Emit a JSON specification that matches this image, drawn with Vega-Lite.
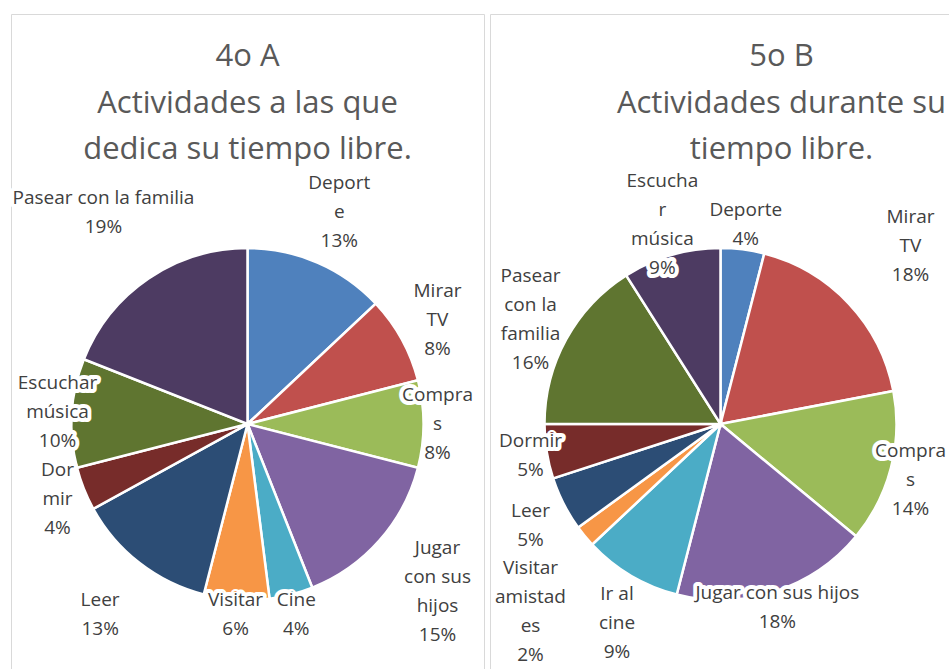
{
  "$schema": "https://vega.github.io/schema/vega-lite/v6.json",
  "padding": {"left": 10, "top": 13, "right": 0, "bottom": 0},
  "background": "white",
  "spacing": 4,
  "config": {
    "view": {"stroke": "#D9D9D9", "strokeWidth": 1},
    "font": "Open Sans",
    "title": {"font": "Open Sans", "fontSize": 31, "fontWeight": "normal", "color": "#595959", "lineHeight": 46.5, "anchor": "middle"}
  },
  "resolve": {"scale": {"color": "independent", "theta": "independent"}},
  "datasets": {
    "cuartoA": [
      {"orden": 1, "actividad": "Deporte", "porcentaje": 13, "etiqueta": "Deport\ne\n13%"},
      {"orden": 2, "actividad": "Mirar TV", "porcentaje": 8, "etiqueta": "Mirar\nTV\n8%"},
      {"orden": 3, "actividad": "Compras", "porcentaje": 8, "etiqueta": "Compra\ns\n8%"},
      {"orden": 4, "actividad": "Jugar con sus hijos", "porcentaje": 15, "etiqueta": "Jugar\ncon sus\nhijos\n15%"},
      {"orden": 5, "actividad": "Cine", "porcentaje": 4, "etiqueta": "Cine\n4%"},
      {"orden": 6, "actividad": "Visitar", "porcentaje": 6, "etiqueta": "Visitar\n6%"},
      {"orden": 7, "actividad": "Leer", "porcentaje": 13, "etiqueta": "Leer\n13%"},
      {"orden": 8, "actividad": "Dormir", "porcentaje": 4, "etiqueta": "Dor\nmir\n4%"},
      {"orden": 9, "actividad": "Escuchar música", "porcentaje": 10, "etiqueta": "Escuchar\nmúsica\n10%"},
      {"orden": 10, "actividad": "Pasear con la familia", "porcentaje": 19, "etiqueta": "Pasear con la familia\n19%"}
    ],
    "quintoB": [
      {"orden": 1, "actividad": "Deporte", "porcentaje": 4, "etiqueta": "Deporte\n4%"},
      {"orden": 2, "actividad": "Mirar TV", "porcentaje": 18, "etiqueta": "Mirar\nTV\n18%"},
      {"orden": 3, "actividad": "Compras", "porcentaje": 14, "etiqueta": "Compra\ns\n14%"},
      {"orden": 4, "actividad": "Jugar con sus hijos", "porcentaje": 18, "etiqueta": "Jugar con sus hijos\n18%"},
      {"orden": 5, "actividad": "Ir al cine", "porcentaje": 9, "etiqueta": "Ir al\ncine\n9%"},
      {"orden": 6, "actividad": "Visitar amistades", "porcentaje": 2, "etiqueta": "Visitar\namistad\nes\n2%"},
      {"orden": 7, "actividad": "Leer", "porcentaje": 5, "etiqueta": "Leer\n5%"},
      {"orden": 8, "actividad": "Dormir", "porcentaje": 5, "etiqueta": "Dormir\n5%"},
      {"orden": 9, "actividad": "Pasear con la familia", "porcentaje": 16, "etiqueta": "Pasear\ncon la\nfamilia\n16%"},
      {"orden": 10, "actividad": "Escuchar música", "porcentaje": 9, "etiqueta": "Escucha\nr\nmúsica\n9%"}
    ]
  },
  "hconcat": [
    {
      "width": 473,
      "height": 655,
      "view": {"stroke": "#D9D9D9", "strokeWidth": 1},
      "title": {"text": ["4o A", "Actividades a las que", "dedica su tiempo libre."], "offset": -152},
      "data": {"name": "cuartoA"},
      "encoding": {
        "theta": {"field": "porcentaje", "type": "quantitative", "stack": true},
        "order": {"field": "orden", "type": "quantitative"}
      },
      "layer": [
        {
          "mark": {"type": "arc", "outerRadius": 176, "stroke": "white", "strokeWidth": 2.5, "y": {"expr": "height * 0.626"}, "clip": true},
          "encoding": {
            "color": {
              "field": "actividad", "type": "nominal", "legend": null,
              "scale": {
                "domain": ["Deporte", "Mirar TV", "Compras", "Jugar con sus hijos", "Cine", "Visitar", "Leer", "Dormir", "Escuchar música", "Pasear con la familia"],
                "range": ["#4F81BD", "#C0504D", "#9BBB59", "#8064A2", "#4BACC6", "#F79646", "#2C4D75", "#772C2A", "#5F7530", "#4D3B62"]
              }
            }
          }
        },
        {
          "mark": {
            "type": "text",
            "radius": {"expr": "min(190 / max(abs(sin(PI * (datum.porcentaje_start + datum.porcentaje_end) / 100)), 0.001), (cos(PI * (datum.porcentaje_start + datum.porcentaje_end) / 100) >= 0 ? 212 : 190) / max(abs(cos(PI * (datum.porcentaje_start + datum.porcentaje_end) / 100)), 0.001))"},
            "dy": {"expr": "-(length(split(datum.etiqueta, '\\n')) - 1) * 14.5"},
            "y": {"expr": "height * 0.626"},
            "fontSize": 19, "lineHeight": 29, "lineBreak": "\n", "color": "white", "stroke": "white", "strokeWidth": 8, "strokeJoin": "round", "align": "center", "baseline": "middle", "clip": true
          },
          "encoding": {"text": {"field": "etiqueta", "type": "nominal"}}
        },
        {
          "mark": {
            "type": "text",
            "radius": {"expr": "min(190 / max(abs(sin(PI * (datum.porcentaje_start + datum.porcentaje_end) / 100)), 0.001), (cos(PI * (datum.porcentaje_start + datum.porcentaje_end) / 100) >= 0 ? 212 : 190) / max(abs(cos(PI * (datum.porcentaje_start + datum.porcentaje_end) / 100)), 0.001))"},
            "dy": {"expr": "-(length(split(datum.etiqueta, '\\n')) - 1) * 14.5"},
            "y": {"expr": "height * 0.626"},
            "fontSize": 19, "lineHeight": 29, "lineBreak": "\n", "color": "#404040", "align": "center", "baseline": "middle", "clip": true
          },
          "encoding": {"text": {"field": "etiqueta", "type": "nominal"}}
        }
      ]
    },
    {
      "width": 461,
      "height": 655,
      "view": {"stroke": "#D9D9D9", "strokeWidth": 1},
      "title": {"text": ["5o B", "Actividades durante su", "tiempo libre."], "offset": -152, "dx": 61},
      "data": {"name": "quintoB"},
      "encoding": {
        "theta": {"field": "porcentaje", "type": "quantitative", "stack": true},
        "order": {"field": "orden", "type": "quantitative"}
      },
      "layer": [
        {
          "mark": {"type": "arc", "outerRadius": 176, "stroke": "white", "strokeWidth": 2.5, "y": {"expr": "height * 0.626"}, "clip": true},
          "encoding": {
            "color": {
              "field": "actividad", "type": "nominal", "legend": null,
              "scale": {
                "domain": ["Deporte", "Mirar TV", "Compras", "Jugar con sus hijos", "Ir al cine", "Visitar amistades", "Leer", "Dormir", "Pasear con la familia", "Escuchar música"],
                "range": ["#4F81BD", "#C0504D", "#9BBB59", "#8064A2", "#4BACC6", "#F79646", "#2C4D75", "#772C2A", "#5F7530", "#4D3B62"]
              }
            }
          }
        },
        {
          "mark": {
            "type": "text",
            "radius": {"expr": "min(190 / max(abs(sin(PI * (datum.porcentaje_start + datum.porcentaje_end) / 100)), 0.001), (cos(PI * (datum.porcentaje_start + datum.porcentaje_end) / 100) >= 0 ? 200 : 175) / max(abs(cos(PI * (datum.porcentaje_start + datum.porcentaje_end) / 100)), 0.001))"},
            "dy": {"expr": "(1.3 * max(0, -cos(PI * (datum.porcentaje_start + datum.porcentaje_end) / 100)) * (length(split(datum.etiqueta, '\\n')) - 1.5) - (length(split(datum.etiqueta, '\\n')) - 1)) * 14.5"},
            "y": {"expr": "height * 0.626"},
            "fontSize": 19, "lineHeight": 29, "lineBreak": "\n", "color": "white", "stroke": "white", "strokeWidth": 8, "strokeJoin": "round", "align": "center", "baseline": "middle", "clip": true
          },
          "encoding": {"text": {"field": "etiqueta", "type": "nominal"}}
        },
        {
          "mark": {
            "type": "text",
            "radius": {"expr": "min(190 / max(abs(sin(PI * (datum.porcentaje_start + datum.porcentaje_end) / 100)), 0.001), (cos(PI * (datum.porcentaje_start + datum.porcentaje_end) / 100) >= 0 ? 200 : 175) / max(abs(cos(PI * (datum.porcentaje_start + datum.porcentaje_end) / 100)), 0.001))"},
            "dy": {"expr": "(1.3 * max(0, -cos(PI * (datum.porcentaje_start + datum.porcentaje_end) / 100)) * (length(split(datum.etiqueta, '\\n')) - 1.5) - (length(split(datum.etiqueta, '\\n')) - 1)) * 14.5"},
            "y": {"expr": "height * 0.626"},
            "fontSize": 19, "lineHeight": 29, "lineBreak": "\n", "color": "#404040", "align": "center", "baseline": "middle", "clip": true
          },
          "encoding": {"text": {"field": "etiqueta", "type": "nominal"}}
        }
      ]
    }
  ]
}
